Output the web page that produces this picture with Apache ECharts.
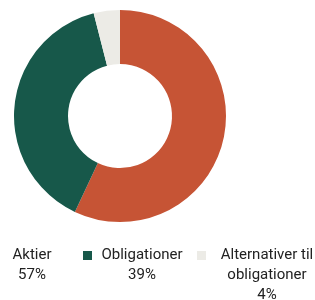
<!DOCTYPE html>
<html>
<head>
<meta charset="utf-8">
<script src="https://cdn.jsdelivr.net/npm/echarts@6/dist/echarts.min.js"></script>
<style>
  html, body { margin: 0; padding: 0; background: #fff; }
  #chart { width: 315px; height: 300px; }
</style>
</head>
<body>
<div id="chart"></div>
<script>
// andele af porteføljen
const categories = ["Aktier", "Obligationer", "Alternativer til obligationer"];
const shares = [57, 39, 4];
const legendLabels = [["Aktier"], ["Obligationer"], ["Alternativer til", "obligationer"]];
const colors = ["#C65435", "#17584A", "#ECEBE6"];

// placering af de tre forklaringer (venstre kant + tekstbredde)
const legendLeft = [0, 83, 197];
const legendWidth = [36, 90, 112];

let chart = echarts.init(document.getElementById("chart"));

let legends = categories.map((name, i) => {
  let lines = legendLabels[i].concat([shares[i] + "%"]);
  return {
    left: legendLeft[i],
    top: 248,
    padding: 0,
    orient: "vertical",
    icon: "rect",
    itemWidth: 9,
    itemHeight: 9,
    selectedMode: false,
    data: [
      i === 0
        ? { name: name, itemStyle: { opacity: 0 } }
        : { name: name },
    ],
    formatter: () => lines.map((l) => "{t|" + l + "}").join("\n"),
    textStyle: {
      padding: [20 * (lines.length - 1), 0, 0, 0],
      rich: {
        t: {
          width: legendWidth[i],
          align: "center",
          fontSize: 15,
          lineHeight: 20,
          color: "#222",
          fontFamily: "Roboto",
        },
      },
    },
  };
});

let option = {
  color: colors,
  animation: false,
  legend: legends,
  series: [
    {
      type: "pie",
      center: [120, 116],
      radius: [52, 106],
      startAngle: 90,
      clockwise: true,
      label: { show: false },
      labelLine: { show: false },
      emphasis: { disabled: true },
      itemStyle: { borderWidth: 0 },
      data: categories.map((c, i) => ({ name: c, value: shares[i] })),
    },
  ],
};

chart.setOption(option);
</script>
</body>
</html>
